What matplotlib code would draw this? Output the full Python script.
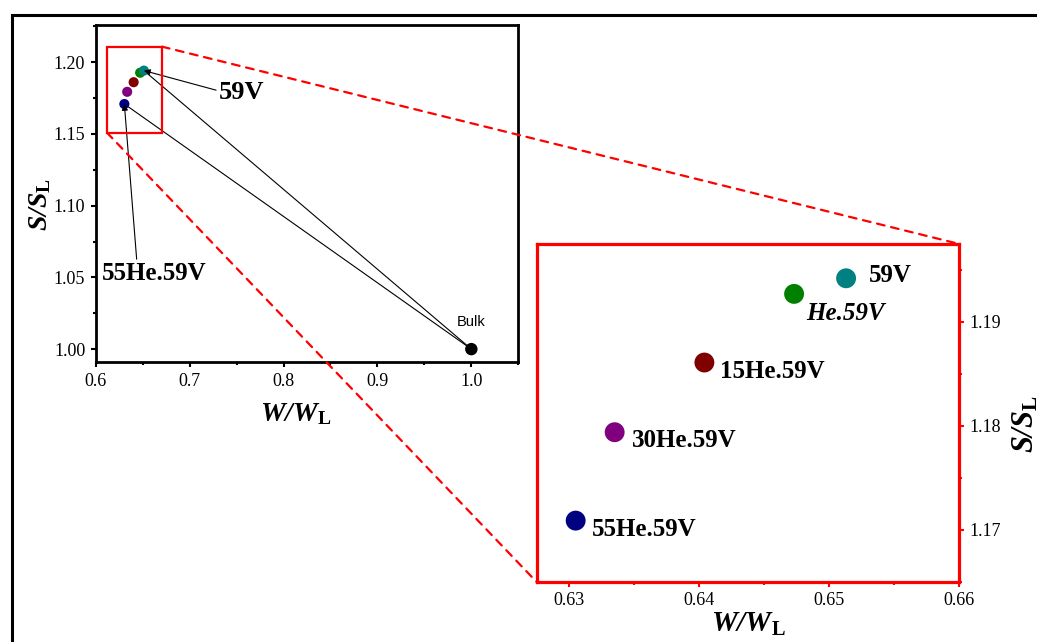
import matplotlib
matplotlib.use('Agg')
import matplotlib.pyplot as plt
from matplotlib.patches import Rectangle, ConnectionPatch
from matplotlib.ticker import MultipleLocator

plt.rcParams['font.family'] = 'Liberation Serif'
plt.rcParams['mathtext.fontset'] = 'custom'
plt.rcParams['mathtext.rm'] = 'Liberation Serif'
plt.rcParams['mathtext.it'] = 'Liberation Serif:italic'
plt.rcParams['mathtext.bf'] = 'Liberation Serif:bold'
plt.rcParams['mathtext.bfit'] = 'Liberation Serif:bold:italic'

# data
samples = ['55He.59V', '30He.59V', '15He.59V', 'He.59V', '59V']
w_vals = [0.6305, 0.6335, 0.6404, 0.6473, 0.6513]
s_vals = [1.1709, 1.1794, 1.1861, 1.1927, 1.1942]
colors = ['#000080', '#800080', '#800000', '#008000', '#008080']
bulk_w = 1.0
bulk_s = 1.0

# label offsets in the zoom panel (pixels from the point)
inset_offsets = [(16, -15), (17, -15), (16, -15), (12, -26), (23, -4)]

xlab = r'$\mathbfit{W/W}_{\mathbf{L}}$'
ylab = r'$\mathbfit{S/S}_{\mathbf{L}}$'

fig = plt.figure(figsize=(10.37, 6.42), dpi=100)

# outer frame (cut by the picture on the right and bottom)
fig.add_artist(Rectangle((0.0111, -0.5), 2.0, 0.9759 + 0.5, transform=fig.transFigure,
                         fill=False, lw=2.2, ec='k', clip_on=False))

# ---- main panel ----
ax = fig.add_axes([0.0923, 0.4361, 0.4075, 0.525])
ax.set_xlim(0.6, 1.05)
ax.set_ylim(0.991, 1.226)
ax.plot([bulk_w, w_vals[4]], [bulk_s, s_vals[4]], color='k', lw=0.8, zorder=2)
ax.plot([bulk_w, w_vals[0]], [bulk_s, s_vals[0]], color='k', lw=0.8, zorder=2)
ax.scatter(w_vals, s_vals, s=53, c=colors, edgecolors='none', zorder=3)
ax.scatter([bulk_w], [bulk_s], s=80, c='k', edgecolors='none', zorder=3)
ax.annotate('Bulk', xy=(bulk_w, bulk_s), xytext=(0, 27), textcoords='offset pixels',
            ha='center', va='center', fontsize=10.5, family='Liberation Sans')
arrow = dict(arrowstyle='-|>', color='k', lw=0.8, shrinkA=0, shrinkB=0, mutation_scale=9)
ax.annotate('59V', xy=(w_vals[4], s_vals[4]), xytext=(75, -28), textcoords='offset pixels',
            ha='left', va='baseline', fontsize=19, fontweight='bold',
            arrowprops=dict(arrow, relpos=(0, 0.55)))
ax.annotate('55He.59V', xy=(w_vals[0], s_vals[0]), xytext=(-22, -176), textcoords='offset pixels',
            ha='left', va='baseline', fontsize=18, fontweight='bold',
            arrowprops=dict(arrow, relpos=(0.33, 1.0)))
ax.add_patch(Rectangle((0.612, 1.1509), 0.0585, 0.06, fill=False, ec='red', lw=1.6, zorder=4))

ax.xaxis.set_major_locator(MultipleLocator(0.1))
ax.xaxis.set_minor_locator(MultipleLocator(0.05))
ax.yaxis.set_major_locator(MultipleLocator(0.05))
ax.yaxis.set_minor_locator(MultipleLocator(0.025))
ax.xaxis.set_major_formatter(plt.FormatStrFormatter('%.1f'))
ax.yaxis.set_major_formatter(plt.FormatStrFormatter('%.2f'))
ax.tick_params(which='both', direction='out', width=1.5, labelsize=13, pad=4)
ax.tick_params(which='major', length=3.6)
ax.tick_params(which='minor', length=2.2)
for sp in ax.spines.values():
    sp.set_linewidth(2)
ax.set_xlabel(xlab, fontsize=20)
ax.set_ylabel(ylab, fontsize=20)
ax.xaxis.set_label_coords(0.473, -0.115)
ax.yaxis.set_label_coords(-0.10, 0.466)

# ---- zoom panel ----
ax2 = fig.add_axes([0.5175, 0.0935, 0.4075, 0.5265])
ax2.set_xlim(0.6275, 0.66)
ax2.set_ylim(1.165, 1.1975)
ax2.scatter(w_vals, s_vals, s=205, c=colors, edgecolors='none', zorder=3)
for name, x, y, off in zip(samples, w_vals, s_vals, inset_offsets):
    style = 'italic' if name == 'He.59V' else 'normal'
    ax2.annotate(name, xy=(x, y), xytext=off, textcoords='offset pixels',
                 ha='left', va='baseline', fontsize=18, fontweight='bold', fontstyle=style)
ax2.xaxis.set_major_locator(MultipleLocator(0.01))
ax2.xaxis.set_minor_locator(MultipleLocator(0.005))
ax2.yaxis.set_major_locator(MultipleLocator(0.01))
ax2.yaxis.set_minor_locator(MultipleLocator(0.005))
ax2.xaxis.set_major_formatter(plt.FormatStrFormatter('%.2f'))
ax2.yaxis.set_major_formatter(plt.FormatStrFormatter('%.2f'))
ax2.yaxis.tick_right()
ax2.yaxis.set_label_position('right')
ax2.tick_params(which='both', direction='out', width=1.5, color='red', labelsize=13, pad=4)
ax2.tick_params(which='major', length=3.5)
ax2.tick_params(which='minor', length=2.2)
for sp in ax2.spines.values():
    sp.set_linewidth(2.3)
    sp.set_color('red')
ax2.set_xlabel(xlab, fontsize=21)
ax2.set_ylabel(ylab, fontsize=22)
ax2.xaxis.set_label_coords(0.5, -0.085)
ax2.yaxis.set_label_coords(1.122, 0.467)

# dashed guide lines between the box and the zoom panel
for pa, pb in [((0.6705, 1.2109), (1, 1)), ((0.612, 1.1509), (0, 0))]:
    con = ConnectionPatch(xyA=pa, coordsA=ax.transData, xyB=pb, coordsB=ax2.transAxes,
                          color='red', lw=1.6, linestyle=(0, (3.5, 3)), zorder=10)
    fig.add_artist(con)

fig.savefig('out.png', dpi=100)
